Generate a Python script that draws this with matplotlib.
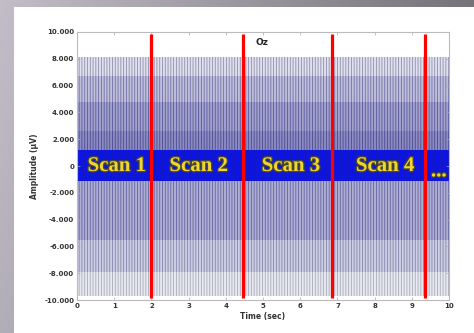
import numpy as np
import matplotlib
matplotlib.use("Agg")
import matplotlib.pyplot as plt
from matplotlib.patches import Rectangle
from matplotlib.ticker import FuncFormatter
import matplotlib.patheffects as pe

# datos
t_ini, t_fin = 0, 10
cortes_scan = [2.0, 4.45, 6.85, 9.35]          # lineas rojas (s)
etiquetas = ["Scan 1", "Scan 2", "Scan 3", "Scan 4", "..."]
pos_etiquetas = [1.07, 3.27, 5.75, 8.28, 9.72]

# bandas de la envolvente del EEG (uV): inferior, superior
banda_inf = [6700, 4800, 2600, 1200, -1150, -5500, -7900, -9700]
banda_sup = [8100, 6700, 4800, 2600, 1200, -1150, -5500, -7900]
banda_col = ["#e0e0ee", "#bfbfdc", "#a2a2cd", "#8c8cc2", "#0a14e8",
             "#afafd5", "#cdcde4", "#e8e9f0"]
trazo_col = ["#8e8eaa", "#7070a4", "#58589c", "#4a4a92", "#1a1ab4",
             "#62629e", "#8585aa", "#a8aaba"]

yticks = [10000, 8000, 6000, 4000, 2000, 0, -2000, -4000, -6000, -8000, -10000]
xticks = list(range(0, 11))

plt.rcParams["hatch.linewidth"] = 0.6

fig = plt.figure(figsize=(4.74, 3.33), dpi=100)

# fondo gris de la diapositiva
bg = fig.add_axes([0, 0, 1, 1])
gx = np.linspace(0, 1, 200)
gy = np.linspace(0, 1, 100)
GX, GY = np.meshgrid(gx, gy)
gris = 0.70 - 0.30 * GX + 0.06 * GY
bg.imshow(np.dstack([gris, gris * 0.975, gris * 1.03]).clip(0, 1),
          aspect="auto", extent=[0, 1, 0, 1], origin="lower")
bg.add_patch(Rectangle((14 / 474, 0), 1, 326 / 333, color="white", lw=0))
bg.set_xlim(0, 1)
bg.set_ylim(0, 1)
bg.axis("off")

ax = fig.add_axes([0.1624, 0.099, 0.785, 0.805])
ax.set_facecolor("white")

for lo, hi, fc, hc in zip(banda_inf, banda_sup, banda_col, trazo_col):
    ax.fill_between([t_ini, t_fin], lo, hi, facecolor=fc, edgecolor=hc,
                    hatch="||||||", linewidth=0)

ax.vlines(cortes_scan, -9850, 9850, colors="#ff0000", linewidth=2.3, zorder=5)

for x, txt in zip(pos_etiquetas, etiquetas):
    y = -400 if txt == "..." else 0
    ax.text(x, y, txt, ha="center", va="center", fontsize=15,
            family="Liberation Serif", weight="bold", color="#f2d630", zorder=6,
            path_effects=[pe.withStroke(linewidth=1.8, foreground="#4a4a2a")])

ax.text(4.96, 9200, "Oz", ha="center", va="center", fontsize=6.5,
        weight="bold", color="#222222")

ax.set_xlim(t_ini, t_fin)
ax.set_ylim(-10000, 10000)
ax.set_xticks(xticks)
ax.set_yticks(yticks)
ax.yaxis.set_major_formatter(FuncFormatter(
    lambda v, p: "0" if v == 0 else f"{v:,.0f}".replace(",", ".")))
ax.tick_params(direction="in", length=2, width=0.5, color="#aaaaaa",
               labelsize=5, labelcolor="#333333", top=True, right=True, pad=2)
for lab in ax.get_xticklabels() + ax.get_yticklabels():
    lab.set_fontweight("bold")
for s in ax.spines.values():
    s.set_color("#bbbbbb")
    s.set_linewidth(0.8)

ax.set_xlabel("Time (sec)", fontsize=5.5, weight="bold", color="#333333", labelpad=2)
ax.set_ylabel("Amplitude (\u00b5V)", fontsize=5.5, weight="bold", color="#333333",
              labelpad=4)

fig.savefig("out.png", dpi=100)
